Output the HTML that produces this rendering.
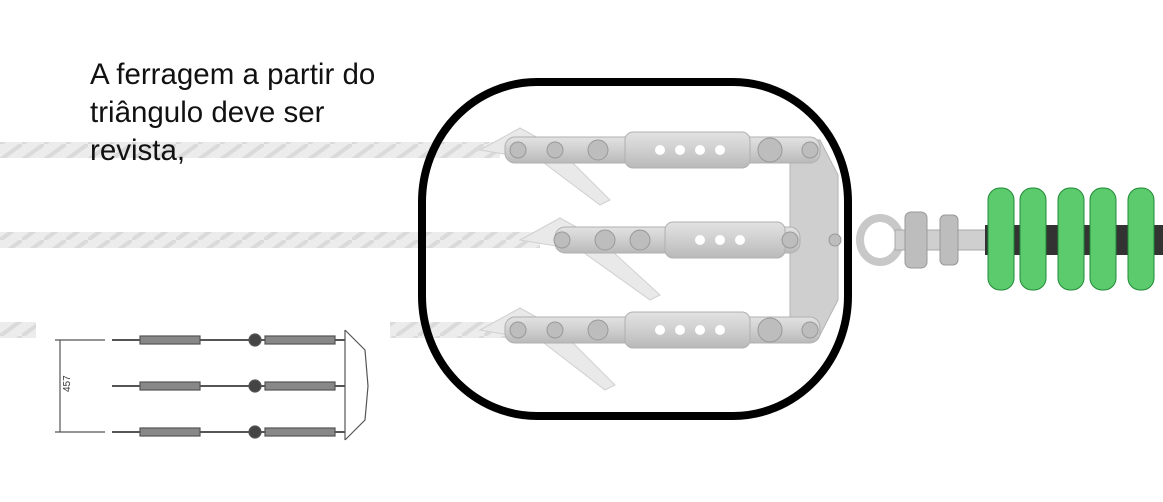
<!DOCTYPE html>
<html><head><meta charset="utf-8">
<style>
html,body{margin:0;padding:0;background:#fff;width:1163px;height:502px;overflow:hidden}
svg{display:block}
.cap{font-family:"Liberation Sans",sans-serif;font-size:29.5px;fill:#111}
</style></head><body>
<svg width="1163" height="502" viewBox="0 0 1163 502">
<defs>
<pattern id="rope" width="22" height="16" patternUnits="userSpaceOnUse">
<rect width="22" height="16" fill="#ececec"/>
<path d="M0 16 L22 0" stroke="#dadada" stroke-width="4"/>
</pattern>
<linearGradient id="steel" x1="0" y1="0" x2="0" y2="1">
<stop offset="0" stop-color="#e2e2e2"/><stop offset="0.5" stop-color="#cfcfcf"/><stop offset="1" stop-color="#b9b9b9"/>
</linearGradient>
</defs>

<g>
<rect x="0" y="142" width="500" height="16" fill="url(#rope)"/>
<rect x="0" y="232" width="540" height="16" fill="url(#rope)"/>
<rect x="0" y="322" width="36" height="16" fill="url(#rope)"/>
<rect x="390" y="322" width="120" height="16" fill="url(#rope)"/>
<path d="M480 150 L520 128 L560 150 L610 200 L600 205 L540 160 Z" fill="#e9e9e9" stroke="#d0d0d0"/>
<path d="M520 240 L560 218 L600 240 L660 295 L650 300 L580 250 Z" fill="#e9e9e9" stroke="#d0d0d0"/>
<path d="M480 330 L520 308 L560 330 L615 385 L605 390 L540 340 Z" fill="#e9e9e9" stroke="#d0d0d0"/>
</g>

<g>
<text class="cap" x="90" y="84">A ferragem a partir do</text>
<text class="cap" x="90" y="122">triângulo deve ser</text>
<text class="cap" x="90" y="160">revista,</text>
</g>

<path d="M790 140 L820 140 L838 175 L838 300 L820 335 L790 335 Z" fill="#cfcfcf" stroke="#b5b5b5"/>

<g>
<rect x="505" y="137" width="315" height="26" rx="10" fill="url(#steel)" stroke="#b0b0b0"/>
<rect x="625" y="132" width="125" height="36" rx="8" fill="url(#steel)" stroke="#b0b0b0"/>
<rect x="555" y="227" width="245" height="26" rx="10" fill="url(#steel)" stroke="#b0b0b0"/>
<rect x="665" y="222" width="120" height="36" rx="8" fill="url(#steel)" stroke="#b0b0b0"/>
<rect x="505" y="317" width="315" height="26" rx="10" fill="url(#steel)" stroke="#b0b0b0"/>
<rect x="625" y="312" width="125" height="36" rx="8" fill="url(#steel)" stroke="#b0b0b0"/>
<g fill="#fff"><circle cx="660" cy="150" r="5"/><circle cx="680" cy="150" r="5"/><circle cx="700" cy="150" r="5"/><circle cx="720" cy="150" r="5"/>
<circle cx="700" cy="240" r="5"/><circle cx="720" cy="240" r="5"/><circle cx="740" cy="240" r="5"/>
<circle cx="660" cy="330" r="5"/><circle cx="680" cy="330" r="5"/><circle cx="700" cy="330" r="5"/><circle cx="720" cy="330" r="5"/></g>
<g fill="#bdbdbd" stroke="#999"><circle cx="518" cy="150" r="8"/><circle cx="555" cy="150" r="8"/><circle cx="598" cy="150" r="10"/><circle cx="770" cy="150" r="12"/><circle cx="810" cy="150" r="8"/>
<circle cx="562" cy="240" r="8"/><circle cx="605" cy="240" r="10"/><circle cx="640" cy="240" r="10"/><circle cx="790" cy="240" r="8"/><circle cx="835" cy="240" r="6"/>
<circle cx="518" cy="330" r="8"/><circle cx="555" cy="330" r="8"/><circle cx="598" cy="330" r="10"/><circle cx="770" cy="330" r="12"/><circle cx="810" cy="330" r="8"/></g>
</g>

<rect x="422" y="82" width="426" height="334" rx="115" ry="120" fill="none" stroke="#000" stroke-width="8"/>

<g>
<ellipse cx="880" cy="240" rx="20" ry="22" fill="none" stroke="#c8c8c8" stroke-width="8"/>
<rect x="895" y="230" width="100" height="20" fill="#cfcfcf" stroke="#aaa"/>
<rect x="905" y="212" width="22" height="56" rx="6" fill="#bdbdbd" stroke="#999"/>
<rect x="940" y="215" width="18" height="50" rx="5" fill="#bdbdbd" stroke="#999"/>
</g>

<g>
<rect x="985" y="225" width="178" height="30" fill="#333"/>
<g fill="#5ccb6e" stroke="#1f8a34">
<rect x="988" y="188" width="26" height="102" rx="12"/>
<rect x="1020" y="188" width="26" height="102" rx="12"/>
<rect x="1058" y="188" width="26" height="102" rx="12"/>
<rect x="1090" y="188" width="26" height="102" rx="12"/>
<rect x="1128" y="188" width="26" height="102" rx="12"/>
</g>
</g>

<g stroke="#555" stroke-width="1.2" fill="none">
<line x1="60" y1="340" x2="60" y2="432"/>
<line x1="55" y1="340" x2="105" y2="340"/><line x1="55" y1="432" x2="105" y2="432"/>
<text x="70" y="392" font-size="10" fill="#333" stroke="none" font-family="Liberation Sans" transform="rotate(-90 70 392)">457</text>
<g stroke-width="2">
<line x1="112" y1="340" x2="345" y2="340"/><line x1="112" y1="386" x2="345" y2="386"/><line x1="112" y1="432" x2="345" y2="432"/>
</g>
<g fill="#888"><rect x="140" y="336" width="60" height="8"/><rect x="140" y="382" width="60" height="8"/><rect x="140" y="428" width="60" height="8"/>
<rect x="265" y="336" width="70" height="8"/><rect x="265" y="382" width="70" height="8"/><rect x="265" y="428" width="70" height="8"/></g>
<g fill="#444"><circle cx="255" cy="340" r="6"/><circle cx="255" cy="386" r="6"/><circle cx="255" cy="432" r="6"/></g>
<path d="M345 330 L365 350 L368 386 L365 420 L345 440"/>
<line x1="345" y1="330" x2="345" y2="440"/>
</g>
</svg>
</body></html>
